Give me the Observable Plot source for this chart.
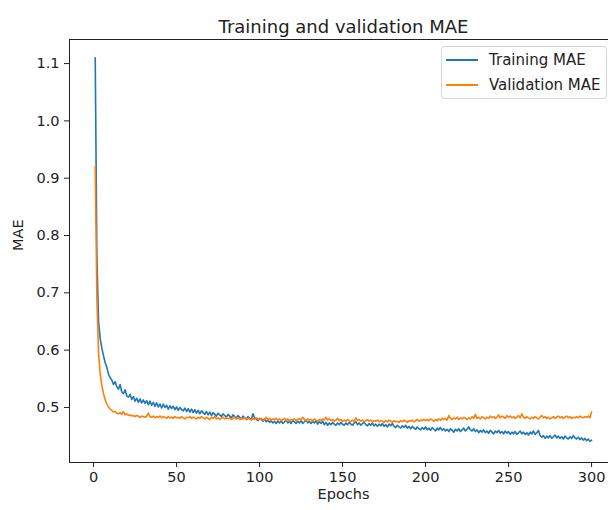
<!DOCTYPE html>
<html>
<head>
<meta charset="utf-8">
<script src="https://cdn.jsdelivr.net/npm/d3@7"></script>
<script src="https://cdn.jsdelivr.net/npm/@observablehq/plot@0.6"></script>
<style>
  html, body { margin: 0; padding: 0; background: #fff; }
  #wrap { position: relative; width: 608px; height: 510px; font-family: "DejaVu Sans", sans-serif; }
  #legend { position: absolute; left: 441px; top: 46px; width: 166px; height: 53px;
    border: 1px solid #d6d6d6; border-radius: 3px; background: rgba(255,255,255,0.85); box-sizing: border-box; }
  .item { position: absolute; left: 0; height: 22px; display: flex; align-items: center; font-size: 15px; color: #222; white-space: nowrap; }
  .item svg { margin-left: 4px; margin-right: 11px; }
</style>
</head>
<body>
<div id="wrap"><div id="legend"></div></div>
<script>
const title = "Training and validation MAE";
const xLabel = "Epochs";
const yLabel = "MAE";
const seriesNames = ["Training MAE", "Validation MAE"];
const seriesColors = ["#1f77b4", "#ff7f0e"];
const xTicks = [0, 50, 100, 150, 200, 250, 300];
const yTicks = [0.5, 0.6, 0.7, 0.8, 0.9, 1.0, 1.1];
const xDomain = [-14.5, 310.2];
const yDomain = [0.404, 1.142];

const trainMAE = [
1.110, 0.760, 0.650, 0.620, 0.603, 0.590, 0.578, 0.570, 0.558, 0.552,
0.548, 0.540, 0.545, 0.536, 0.532, 0.540, 0.527, 0.524, 0.531, 0.520,
0.518, 0.523, 0.514, 0.519, 0.511, 0.516, 0.509, 0.515, 0.508, 0.513,
0.507, 0.512, 0.505, 0.511, 0.504, 0.509, 0.502, 0.508, 0.501, 0.506,
0.499, 0.506, 0.500, 0.504, 0.497, 0.503, 0.498, 0.502, 0.496, 0.501,
0.495, 0.500, 0.496, 0.494, 0.499, 0.493, 0.498, 0.492, 0.497, 0.491,
0.496, 0.490, 0.495, 0.489, 0.494, 0.491, 0.488, 0.493, 0.487, 0.492,
0.486, 0.491, 0.488, 0.485, 0.490, 0.487, 0.484, 0.489, 0.486, 0.483,
0.488, 0.485, 0.482, 0.487, 0.484, 0.481, 0.486, 0.483, 0.480, 0.485,
0.482, 0.479, 0.484, 0.481, 0.479, 0.489, 0.482, 0.480, 0.477, 0.481,
0.479, 0.476, 0.480, 0.475, 0.478, 0.474, 0.477, 0.473, 0.476, 0.472,
0.476, 0.473, 0.477, 0.472, 0.475, 0.478, 0.473, 0.476, 0.472, 0.477,
0.475, 0.472, 0.476, 0.473, 0.477, 0.472, 0.475, 0.478, 0.473, 0.476,
0.472, 0.476, 0.473, 0.477, 0.471, 0.475, 0.472, 0.476, 0.470, 0.474,
0.469, 0.473, 0.470, 0.474, 0.471, 0.469, 0.473, 0.470, 0.474, 0.471,
0.469, 0.473, 0.470, 0.474, 0.471, 0.469, 0.473, 0.475, 0.470, 0.473,
0.469, 0.472, 0.474, 0.470, 0.468, 0.472, 0.469, 0.473, 0.468, 0.471,
0.467, 0.471, 0.468, 0.472, 0.467, 0.470, 0.466, 0.471, 0.468, 0.472,
0.467, 0.465, 0.469, 0.466, 0.464, 0.468, 0.465, 0.469, 0.464, 0.467,
0.463, 0.467, 0.464, 0.462, 0.466, 0.463, 0.461, 0.465, 0.462, 0.466,
0.461, 0.464, 0.460, 0.465, 0.462, 0.459, 0.464, 0.461, 0.465, 0.460,
0.463, 0.459, 0.462, 0.458, 0.463, 0.460, 0.457, 0.462, 0.459, 0.463,
0.458, 0.461, 0.464, 0.459, 0.462, 0.466, 0.461, 0.459, 0.463, 0.458,
0.461, 0.456, 0.460, 0.457, 0.461, 0.456, 0.459, 0.455, 0.460, 0.457,
0.454, 0.459, 0.456, 0.460, 0.455, 0.458, 0.454, 0.459, 0.455, 0.458,
0.453, 0.457, 0.454, 0.458, 0.453, 0.456, 0.459, 0.454, 0.457, 0.453,
0.456, 0.452, 0.457, 0.454, 0.459, 0.453, 0.456, 0.460, 0.451, 0.448,
0.451, 0.446, 0.450, 0.447, 0.451, 0.446, 0.449, 0.452, 0.447, 0.450,
0.446, 0.449, 0.445, 0.450, 0.447, 0.445, 0.449, 0.446, 0.451, 0.447,
0.445, 0.448, 0.444, 0.447, 0.443, 0.446, 0.442, 0.445, 0.441, 0.443
];

const valMAE = [
0.920, 0.690, 0.595, 0.558, 0.538, 0.524, 0.513, 0.506, 0.501, 0.497,
0.495, 0.492, 0.493, 0.490, 0.489, 0.491, 0.488, 0.493, 0.487, 0.489,
0.486, 0.487, 0.485, 0.486, 0.484, 0.486, 0.485, 0.483, 0.485, 0.484,
0.483, 0.485, 0.490, 0.484, 0.483, 0.485, 0.482, 0.484, 0.483, 0.485,
0.482, 0.484, 0.483, 0.481, 0.484, 0.482, 0.483, 0.481, 0.484, 0.482,
0.483, 0.481, 0.484, 0.482, 0.480, 0.483, 0.482, 0.484, 0.481, 0.483,
0.482, 0.480, 0.483, 0.481, 0.484, 0.482, 0.480, 0.483, 0.481, 0.479,
0.483, 0.481, 0.484, 0.480, 0.482, 0.479, 0.481, 0.483, 0.480, 0.482,
0.480, 0.482, 0.479, 0.481, 0.483, 0.480, 0.482, 0.479, 0.481, 0.480,
0.482, 0.479, 0.481, 0.480, 0.478, 0.481, 0.479, 0.482, 0.480, 0.479,
0.481, 0.478, 0.480, 0.483, 0.479, 0.481, 0.478, 0.480, 0.479, 0.481,
0.478, 0.480, 0.477, 0.479, 0.481, 0.478, 0.480, 0.477, 0.479, 0.478,
0.480, 0.477, 0.479, 0.481, 0.478, 0.483, 0.479, 0.477, 0.480, 0.478,
0.479, 0.477, 0.480, 0.478, 0.476, 0.479, 0.477, 0.480, 0.478, 0.483,
0.478, 0.480, 0.477, 0.479, 0.476, 0.478, 0.481, 0.477, 0.479, 0.476,
0.478, 0.476, 0.479, 0.477, 0.475, 0.478, 0.476, 0.482, 0.477, 0.479,
0.476, 0.478, 0.475, 0.477, 0.479, 0.476, 0.478, 0.475, 0.477, 0.476,
0.478, 0.475, 0.477, 0.476, 0.474, 0.477, 0.475, 0.478, 0.476, 0.474,
0.477, 0.475, 0.476, 0.474, 0.477, 0.475, 0.478, 0.476, 0.474, 0.477,
0.476, 0.478, 0.475, 0.477, 0.479, 0.476, 0.478, 0.477, 0.479, 0.477,
0.479, 0.477, 0.480, 0.478, 0.476, 0.479, 0.477, 0.480, 0.478, 0.481,
0.479, 0.481, 0.478, 0.486, 0.481, 0.479, 0.482, 0.480, 0.483, 0.479,
0.482, 0.480, 0.483, 0.481, 0.479, 0.482, 0.480, 0.484, 0.481, 0.488,
0.481, 0.483, 0.480, 0.484, 0.482, 0.480, 0.483, 0.481, 0.485, 0.482,
0.484, 0.481, 0.483, 0.487, 0.482, 0.485, 0.483, 0.481, 0.486, 0.483,
0.485, 0.482, 0.484, 0.481, 0.483, 0.486, 0.482, 0.489, 0.483, 0.481,
0.484, 0.482, 0.480, 0.483, 0.481, 0.484, 0.482, 0.480, 0.483, 0.486,
0.482, 0.484, 0.481, 0.483, 0.480, 0.482, 0.484, 0.481, 0.483, 0.485,
0.482, 0.484, 0.481, 0.483, 0.485, 0.482, 0.484, 0.481, 0.483, 0.482,
0.484, 0.482, 0.485, 0.483, 0.482, 0.484, 0.483, 0.485, 0.482, 0.492
];

const epochs = trainMAE.map((_, i) => i + 1);
const rows = [];
[trainMAE, valMAE].forEach((arr, s) => arr.forEach((v, i) => rows.push({epoch: epochs[i], value: v, series: seriesNames[s]})));

const chart = Plot.plot({
  width: 608, height: 510,
  marginLeft: 69, marginRight: 0, marginTop: 39, marginBottom: 48,
  style: {fontFamily: "DejaVu Sans, sans-serif", fontSize: "14.5px", color: "#222", background: "#fff"},
  x: {domain: xDomain},
  y: {domain: yDomain},
  color: {domain: seriesNames, range: seriesColors},
  marks: [
    Plot.lineY(rows, {x: "epoch", y: "value", z: "series", stroke: "series", strokeWidth: 1.6}),
    Plot.ruleX([xDomain[0]], {stroke: "#222", strokeWidth: 1}),
    Plot.ruleY(yDomain, {stroke: "#222", strokeWidth: 1}),
    Plot.axisX({ticks: xTicks, tickSize: 5, tickPadding: 4, label: null, fontSize: 14.5, stroke: "#222"}),
    Plot.axisY({ticks: yTicks, tickSize: 5, tickPadding: 5, label: null, fontSize: 14.5, tickFormat: d3.format(".1f"), stroke: "#222"}),
    Plot.text([title], {frameAnchor: "top", dy: -19, dx: 4.5, fontSize: 18, fill: "#222"}),
    Plot.text([xLabel], {frameAnchor: "bottom", dy: 36, dx: 4.5, fontSize: 14.5, fill: "#222"}),
    Plot.text([yLabel], {frameAnchor: "left", dx: -51, rotate: -90, fontSize: 14.5, fill: "#222"})
  ]
});
document.getElementById("wrap").prepend(chart);

const legend = document.getElementById("legend");
seriesNames.forEach((name, i) => {
  const item = document.createElement("div");
  item.className = "item";
  item.style.top = (2 + i * 25) + "px";
  item.innerHTML = `<svg width="32" height="4"><line x1="0" x2="32" y1="2" y2="2" stroke="${seriesColors[i]}" stroke-width="2"/></svg><span>${name}</span>`;
  legend.appendChild(item);
});
</script>
</body>
</html>
